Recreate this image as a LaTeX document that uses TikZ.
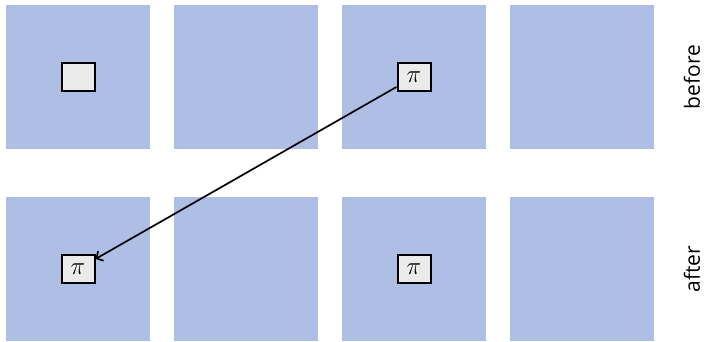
\documentclass[tikz,border=0pt]{standalone}
\usepackage{fontspec}
\newfontfamily\labelfont{Open Sans}
\usepackage{tikz}
\usetikzlibrary{positioning,arrows.meta}
\definecolor{cellblue}{RGB}{174,190,228}
\definecolor{boxgray}{RGB}{235,235,235}

\begin{document}
\begin{tikzpicture}[y=-1pt,x=1pt]
	\newcommand\Cell{[fill=cellblue] +(-72,-72) rectangle +(72,72)}
	\tikzset{slot/.style={draw,line width=2pt,fill=boxgray,minimum width=33pt,minimum height=28pt,inner sep=0pt,font=\fontsize{25}{27}\selectfont}}
	\useasboundingbox (0,0) rectangle (706,342);

	\foreach \c in {0,1,2,3} {
		\path (78+168*\c,77) \Cell;
		\path (78+168*\c,269) \Cell;
	}

	\node[slot] (before1) at (78,77) {};
	\node[slot] (before3) at (414,77) {$\pi$};
	\node[slot] (after1) at (78,269) {$\pi$};
	\node[slot] (after3) at (414,269) {$\pi$};

	\draw [-{Straight Barb[length=5pt,width=11pt]},line width=1.7pt] (before3) -- (after1);

	\node[rotate=90,font=\labelfont\fontsize{21}{24}\selectfont] (lbefore) at (692,77) {before};
	\node[rotate=90,font=\labelfont\fontsize{21}{24}\selectfont] (lafter) at (692,269) {after};

\end{tikzpicture}
\end{document}
